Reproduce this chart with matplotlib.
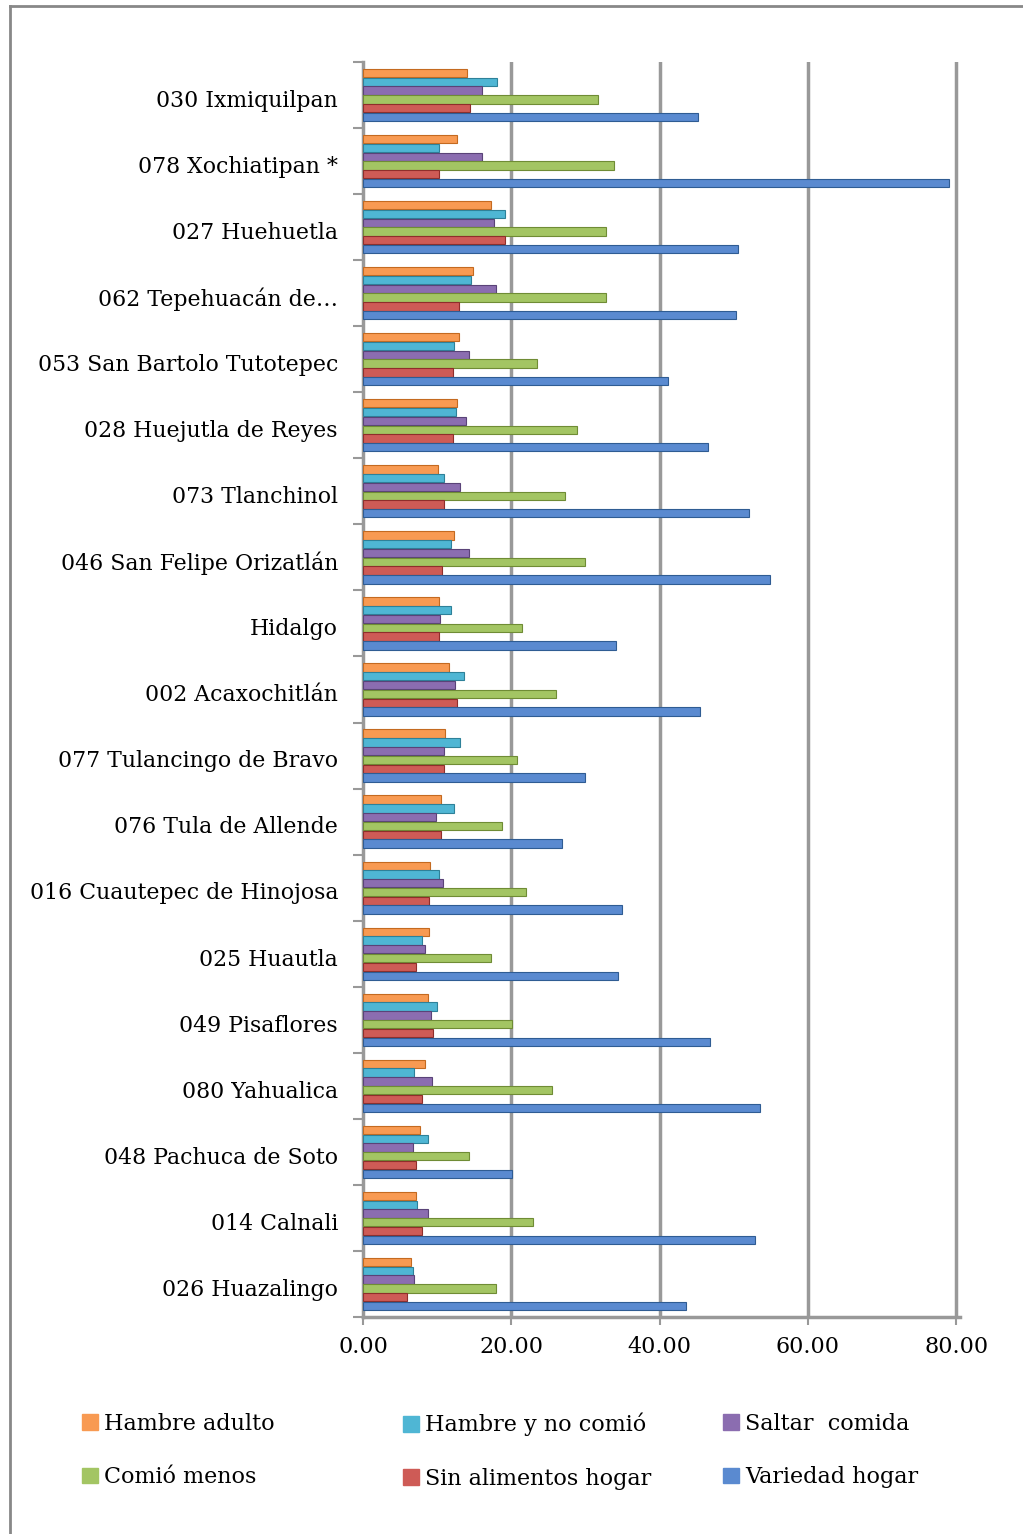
import matplotlib.pyplot as plt
import numpy as np
from matplotlib.patches import Patch

municipios = ["030 Ixmiquilpan", "078 Xochiatipan *", "027 Huehuetla", "062 Tepehuacán de…",
              "053 San Bartolo Tutotepec", "028 Huejutla de Reyes", "073 Tlanchinol",
              "046 San Felipe Orizatlán", "Hidalgo", "002 Acaxochitlán", "077 Tulancingo de Bravo",
              "076 Tula de Allende", "016 Cuautepec de Hinojosa", "025 Huautla", "049 Pisaflores",
              "080 Yahualica", "048 Pachuca de Soto", "014 Calnali", "026 Huazalingo"]

hambre_adulto = [14.0, 12.7, 17.2, 14.8, 12.9, 12.7, 10.1, 12.3, 10.3, 11.6, 11.1, 10.5, 9.1, 8.9, 8.7, 8.3, 7.7, 7.2, 6.5]
hambre_no_comio = [18.1, 10.3, 19.2, 14.5, 12.3, 12.5, 10.9, 11.9, 11.9, 13.6, 13.1, 12.3, 10.3, 7.9, 10.0, 6.9, 8.8, 7.3, 6.7]
saltar_comida = [16.1, 16.0, 17.7, 17.9, 14.3, 13.9, 13.1, 14.3, 10.4, 12.4, 10.9, 9.9, 10.8, 8.4, 9.2, 9.3, 6.8, 8.7, 6.9]
comio_menos = [31.7, 33.9, 32.8, 32.7, 23.5, 28.9, 27.2, 29.9, 21.5, 26.0, 20.7, 18.8, 22.0, 17.3, 20.1, 25.5, 14.3, 22.9, 18.0]
sin_alimentos = [14.4, 10.3, 19.2, 12.9, 12.1, 12.1, 10.9, 10.7, 10.3, 12.7, 10.9, 10.5, 8.9, 7.1, 9.5, 8.0, 7.2, 7.9, 5.9]
variedad = [45.2, 79.0, 50.5, 50.3, 41.1, 46.5, 52.0, 54.9, 34.1, 45.5, 30.0, 26.8, 34.9, 34.4, 46.8, 53.5, 20.1, 52.9, 43.6]

series = ["Hambre adulto", "Hambre y no comió", "Saltar  comida",
          "Comió menos", "Sin alimentos hogar", "Variedad hogar"]
colores = ["#F89A52", "#4FB6D4", "#8B6DB0", "#A3C563", "#CE5B56", "#5A8AD0"]
bordes = ["#C46A20", "#2E8199", "#5A4378", "#6F8C35", "#8F2E2B", "#2F5C93"]

plt.rcParams['font.family'] = ['DejaVu Serif']

fig = plt.figure(figsize=(10.23, 15.34), dpi=100)
ax = fig.add_axes([363 / 1023, 1 - 1317 / 1534, 597 / 1023, (1317 - 62) / 1534])

y = np.arange(len(municipios))
h = 0.133
datos = [hambre_adulto, hambre_no_comio, saltar_comida, comio_menos, sin_alimentos, variedad]
for j, vals in enumerate(datos):
    ax.barh(y + (j - 2.5) * h, vals, height=h * 0.95, color=colores[j],
            edgecolor=bordes[j], linewidth=0.8, zorder=3)

ax.set_xlim(0, 80.5)
ax.set_ylim(len(municipios) - 0.5, -0.5)

ax.set_xticks([0, 20, 40, 60, 80])
ax.set_xticklabels(["0.00", "20.00", "40.00", "60.00", "80.00"], fontsize=16)
ax.tick_params(axis='x', length=6, width=1.5, color="#999999", pad=8)
for v in [20, 40, 60, 80]:
    ax.axvline(v, color="#999999", lw=2.5, zorder=1)

# marcas entre grupos, etiquetas en el centro
ax.set_yticks(np.arange(-0.5, len(municipios), 1))
ax.set_yticklabels([])
ax.tick_params(axis='y', which='major', length=7, width=1.5, color="#999999")
ax.set_yticks(y + 0.05, minor=True)
ax.set_yticklabels(municipios, minor=True, fontsize=15.8)
ax.tick_params(axis='y', which='minor', length=0, pad=18)

for s in ["top", "right"]:
    ax.spines[s].set_visible(False)
for s in ["left", "bottom"]:
    ax.spines[s].set_color("#999999")
    ax.spines[s].set_linewidth(2.5)

# leyenda: tres columnas de ancho fijo
handles = [Patch(facecolor=c, edgecolor=c) for c in colores]
col_x = [82, 403, 723]
for k in range(3):
    leg = fig.legend([handles[k], handles[k + 3]], [series[k], series[k + 3]],
                     loc="upper left", bbox_to_anchor=(col_x[k] / 1023, 1 - 1413 / 1534),
                     frameon=False, fontsize=16, handlelength=0.7, handleheight=0.7,
                     handletextpad=0.3, labelspacing=1.4, borderpad=0, borderaxespad=0)

# marco exterior (solo bordes superior e izquierdo visibles)
fig.add_artist(plt.Line2D([10 / 1023, 10 / 1023], [0, 1 - 6 / 1534], color="#888888", lw=2,
                          transform=fig.transFigure))
fig.add_artist(plt.Line2D([10 / 1023, 1], [1 - 6 / 1534, 1 - 6 / 1534], color="#888888", lw=2,
                          transform=fig.transFigure))

plt.savefig("out.png", dpi=100)
